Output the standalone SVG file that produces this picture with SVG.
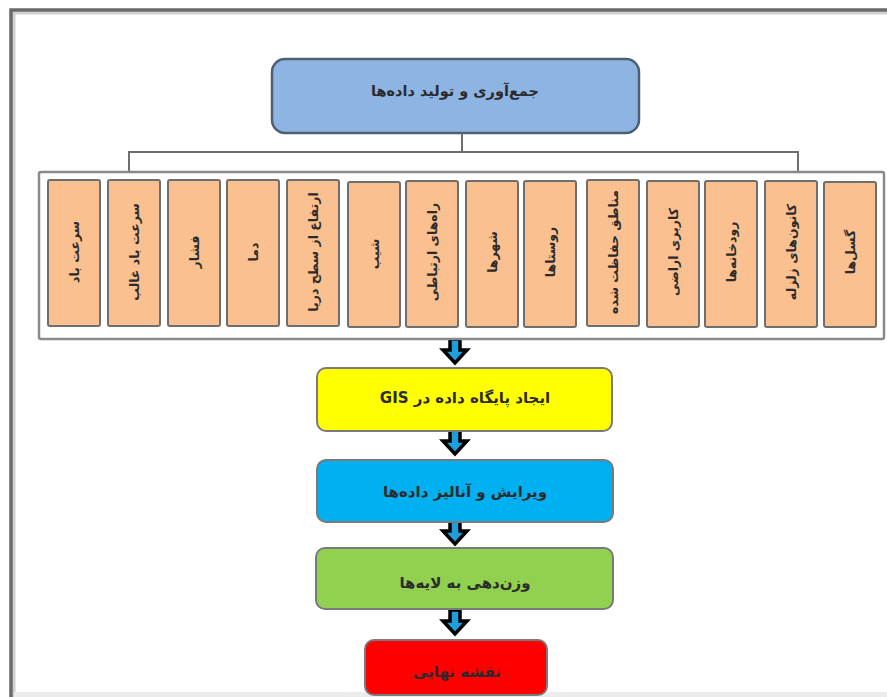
<svg xmlns="http://www.w3.org/2000/svg" width="887" height="697" viewBox="0 0 887 697">
<defs>
<style>
.fa{font-family:"DejaVu Sans","Noto Sans",sans-serif;direction:rtl;unicode-bidi:embed;text-anchor:middle;fill:#2b2b2b;font-weight:bold}
.leaf rect{fill:#FAC090;stroke:#6e6e6e;stroke-width:2}
.leaf text{font-size:12.5px}
.flow rect{stroke:#7a7a7a;stroke-width:2}
.flow text{font-size:15px}
.conn{fill:none;stroke:#6e6e6e;stroke-width:2}
</style>
<g id="arrowShape">
<path d="M450,0 H460 V11 H467 L455,24 L443,11 H450 Z" fill="#1E9FDC" stroke="#000" stroke-width="3.5" stroke-linejoin="miter"/>
</g>
</defs>
<rect width="887" height="697" fill="#fff"/>
<path d="M14,697 V13 H887" fill="none" stroke="#d0d0d0" stroke-width="3"/>
<path d="M11,697 V10 H887" fill="none" stroke="#6a6a6a" stroke-width="3.5"/>
<rect x="14" y="692" width="873" height="5" fill="#ececec"/>

<g id="top" class="flow">
<rect x="272" y="59" width="367" height="74" rx="13" fill="#8EB4E3" style="stroke:#4F5F73;stroke-width:2.5"/>
<text class="fa" x="455" y="96" style="font-size:14.5px">جمع‌آوری و تولید داده‌ها</text>
</g>

<g id="connectors">
<path class="conn" d="M462,133 V152 M129,172 V152 H798 V172"/>
<use href="#arrowShape" transform="translate(0,339)"/>
<use href="#arrowShape" transform="translate(0,430)"/>
<use href="#arrowShape" transform="translate(0,520)"/>
<use href="#arrowShape" transform="translate(0,610)"/>
</g>

<g id="container">
<rect x="39" y="172" width="845" height="167" fill="#fff" stroke="#8a8a8a" stroke-width="2.5" rx="2"/>
</g>

<g id="n1" class="leaf"><rect x="48" y="180" width="52" height="146" rx="2"/><text class="fa" transform="translate(79,252) rotate(-90)">سرعت باد</text></g>
<g id="n2" class="leaf"><rect x="108" y="180" width="52" height="146" rx="2"/><text class="fa" transform="translate(139,252) rotate(-90)">سرعت باد غالب</text></g>
<g id="n3" class="leaf"><rect x="168" y="180" width="52" height="146" rx="2"/><text class="fa" transform="translate(199,252) rotate(-90)">فشار</text></g>
<g id="n4" class="leaf"><rect x="227" y="180" width="52" height="146" rx="2"/><text class="fa" transform="translate(258,252) rotate(-90)">دما</text></g>
<g id="n5" class="leaf"><rect x="287" y="180" width="52" height="146" rx="2"/><text class="fa" transform="translate(318,252) rotate(-90)">ارتفاع از سطح دریا</text></g>
<g id="n6" class="leaf"><rect x="348" y="182" width="52" height="145" rx="2"/><text class="fa" transform="translate(379,254) rotate(-90)">شیب</text></g>
<g id="n7" class="leaf"><rect x="406" y="181" width="52" height="146" rx="2"/><text class="fa" transform="translate(437,252) rotate(-90)">راه‌های ارتباطی</text></g>
<g id="n8" class="leaf"><rect x="466" y="181" width="52" height="146" rx="2"/><text class="fa" transform="translate(497,252) rotate(-90)">شهرها</text></g>
<g id="n9" class="leaf"><rect x="524" y="181" width="52" height="146" rx="2"/><text class="fa" transform="translate(555,252) rotate(-90)">روستاها</text></g>
<g id="n10" class="leaf"><rect x="587" y="180" width="52" height="146" rx="2"/><text class="fa" transform="translate(618,252) rotate(-90)">مناطق حفاظت شده</text></g>
<g id="n11" class="leaf"><rect x="647" y="181" width="52" height="146" rx="2"/><text class="fa" transform="translate(678,252) rotate(-90)">کاربری اراضی</text></g>
<g id="n12" class="leaf"><rect x="705" y="181" width="52" height="146" rx="2"/><text class="fa" transform="translate(736,252) rotate(-90)">رودخانه‌ها</text></g>
<g id="n13" class="leaf"><rect x="765" y="181" width="52" height="146" rx="2"/><text class="fa" transform="translate(796,252) rotate(-90)">کانون‌های زلزله</text></g>
<g id="n14" class="leaf"><rect x="824" y="182" width="52" height="145" rx="2"/><text class="fa" transform="translate(855,252) rotate(-90)">گسل‌ها</text></g>

<g id="gis" class="flow"><rect x="317" y="368" width="295" height="63" rx="9" fill="#FFFF00"/><text class="fa" x="465" y="403">ایجاد پایگاه داده در GIS</text></g>
<g id="edit" class="flow"><rect x="317" y="460" width="296" height="62" rx="9" fill="#00B0F0"/><text class="fa" x="465" y="497">ویرایش و آنالیز داده‌ها</text></g>
<g id="weight" class="flow"><rect x="316" y="548" width="297" height="61" rx="9" fill="#92D050"/><text class="fa" x="465" y="588">وزن‌دهی به لایه‌ها</text></g>
<g id="final" class="flow"><rect x="365" y="640" width="182" height="55" rx="9" fill="#FF0000"/><text class="fa" x="457" y="677">نقشه نهایی</text></g>
</svg>
